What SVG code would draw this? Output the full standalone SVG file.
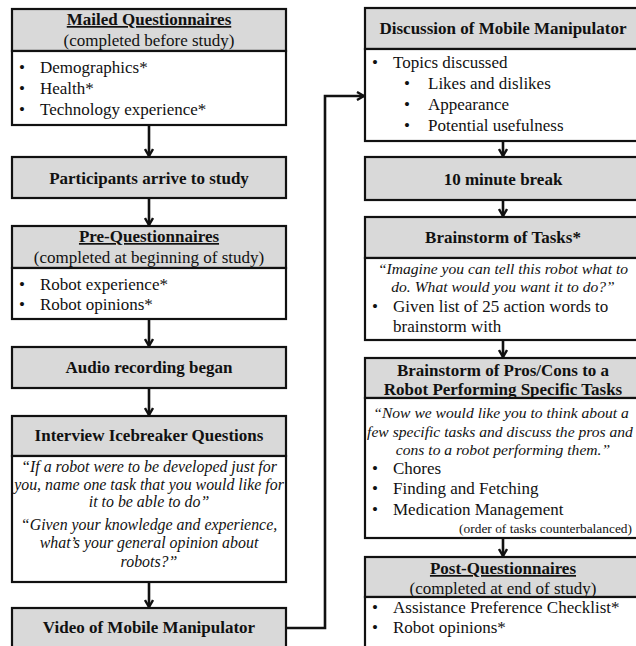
<svg xmlns="http://www.w3.org/2000/svg" width="636" height="646" viewBox="0 0 636 646">
<defs>
<style>
.hd{fill:#d9d9d9;stroke:#111;stroke-width:2.2}
.bd{fill:#fff;stroke:#111;stroke-width:2.2}
text{font-family:"Liberation Serif","Times New Roman",serif;fill:#111;font-size:17px}
.b{font-weight:bold}
.c{text-anchor:middle}
.i{font-style:italic;font-size:15.6px}
.il{font-size:15.9px}
.u{text-decoration:underline}
.sm{font-size:13.4px}
.con{fill:none;stroke:#111;stroke-width:2.6}
</style>
<marker id="ah" viewBox="0 0 10 10" refX="9" refY="5" markerWidth="10" markerHeight="10" markerUnits="userSpaceOnUse" orient="auto">
<path d="M2,1 L9,5 L2,9" fill="none" stroke="#111" stroke-width="2.4"/>
</marker>
</defs>
<rect width="636" height="646" fill="#fff"/>

<g id="connectors">
<line class="con" x1="149" y1="125" x2="149" y2="156" marker-end="url(#ah)"/>
<line class="con" x1="149" y1="198" x2="149" y2="225" marker-end="url(#ah)"/>
<line class="con" x1="149" y1="319" x2="149" y2="346" marker-end="url(#ah)"/>
<line class="con" x1="149" y1="388" x2="149" y2="415" marker-end="url(#ah)"/>
<line class="con" x1="149" y1="582" x2="149" y2="607" marker-end="url(#ah)"/>
<polyline class="con" points="286,628 325,628 325,96 364,96" marker-end="url(#ah)"/>
<line class="con" x1="503" y1="141" x2="503" y2="156" marker-end="url(#ah)"/>
<line class="con" x1="503" y1="200" x2="503" y2="216" marker-end="url(#ah)"/>
<line class="con" x1="503" y1="340" x2="503" y2="357" marker-end="url(#ah)"/>
<line class="con" x1="503" y1="538" x2="503" y2="556" marker-end="url(#ah)"/>
</g>

<g id="mailed">
<rect class="hd" x="12" y="9" width="274" height="42"/>
<rect class="bd" x="12" y="51" width="274" height="74"/>
<text class="b c u" x="149" y="25">Mailed Questionnaires</text>
<text class="c" x="149" y="46">(completed before study)</text>
<text x="19" y="73">•</text><text x="40" y="73">Demographics*</text>
<text x="19" y="94">•</text><text x="40" y="94">Health*</text>
<text x="19" y="115">•</text><text x="40" y="115">Technology experience*</text>
</g>

<g id="arrive">
<rect class="hd" x="12" y="157" width="274" height="41"/>
<text class="b c" x="149" y="184">Participants arrive to study</text>
</g>

<g id="preq">
<rect class="hd" x="12" y="226" width="274" height="42"/>
<rect class="bd" x="12" y="268" width="274" height="51"/>
<text class="b c u" x="149" y="242">Pre-Questionnaires</text>
<text class="c" x="149" y="263">(completed at beginning of study)</text>
<text x="19" y="290">•</text><text x="40" y="290">Robot experience*</text>
<text x="19" y="310">•</text><text x="40" y="310">Robot opinions*</text>
</g>

<g id="audio">
<rect class="hd" x="12" y="347" width="274" height="41"/>
<text class="b c" x="149" y="373">Audio recording began</text>
</g>

<g id="icebreaker">
<rect class="hd" x="12" y="416" width="274" height="40"/>
<rect class="bd" x="12" y="456" width="274" height="126"/>
<text class="b c" x="149" y="441">Interview Icebreaker Questions</text>
<text class="i il c" x="149" y="472">“If a robot were to be developed just for</text>
<text class="i il c" x="149" y="490">you, name one task that you would like for</text>
<text class="i il c" x="149" y="507">it to be able to do”</text>
<text class="i il c" x="149" y="530">“Given your knowledge and experience,</text>
<text class="i il c" x="149" y="548">what’s your general opinion about</text>
<text class="i il c" x="149" y="567">robots?”</text>
</g>

<g id="video">
<rect class="hd" x="12" y="608" width="274" height="44"/>
<text class="b c" x="149" y="633">Video of Mobile Manipulator</text>
</g>

<g id="discussion">
<rect class="hd" x="365" y="8" width="277" height="41"/>
<rect class="bd" x="365" y="49" width="277" height="92"/>
<text class="b c" x="503" y="34">Discussion of Mobile Manipulator</text>
<text x="372" y="68">•</text><text x="393" y="68">Topics discussed</text>
<text x="404" y="89">•</text><text x="428" y="89">Likes and dislikes</text>
<text x="404" y="110">•</text><text x="428" y="110">Appearance</text>
<text x="404" y="131">•</text><text x="428" y="131">Potential usefulness</text>
</g>

<g id="break">
<rect class="hd" x="365" y="157" width="277" height="43"/>
<text class="b c" x="503" y="185">10 minute break</text>
</g>

<g id="brainstorm-tasks">
<rect class="hd" x="365" y="217" width="277" height="41"/>
<rect class="bd" x="365" y="258" width="277" height="82"/>
<text class="b c" x="503" y="243">Brainstorm of Tasks*</text>
<text class="i c" x="503" y="274">“Imagine you can tell this robot what to</text>
<text class="i c" x="503" y="292">do. What would you want it to do?”</text>
<text x="372" y="312">•</text><text x="393" y="312">Given list of 25 action words to</text>
<text x="393" y="332">brainstorm with</text>
</g>

<g id="pros-cons">
<rect class="hd" x="365" y="358" width="277" height="40"/>
<rect class="bd" x="365" y="398" width="277" height="140"/>
<text class="b c" x="503" y="376">Brainstorm of Pros/Cons to a</text>
<text class="b c" x="503" y="395">Robot Performing Specific Tasks</text>
<text class="i c" x="501" y="418">“Now we would like you to think about a</text>
<text class="i c" x="500" y="437">few specific tasks and discuss the pros and</text>
<text class="i c" x="503" y="455">cons to a robot performing them.”</text>
<text x="372" y="474">•</text><text x="393" y="474">Chores</text>
<text x="372" y="494">•</text><text x="393" y="494">Finding and Fetching</text>
<text x="372" y="515">•</text><text x="393" y="515">Medication Management</text>
<text class="sm" x="632" y="533" text-anchor="end">(order of tasks counterbalanced)</text>
</g>

<g id="postq">
<rect class="hd" x="365" y="557" width="277" height="40"/>
<rect class="bd" x="365" y="597" width="277" height="55"/>
<text class="b c u" x="503" y="574">Post-Questionnaires</text>
<text class="c" x="503" y="594">(completed at end of study)</text>
<text x="372" y="613">•</text><text x="393" y="613">Assistance Preference Checklist*</text>
<text x="372" y="633">•</text><text x="393" y="633">Robot opinions*</text>
</g>
</svg>
